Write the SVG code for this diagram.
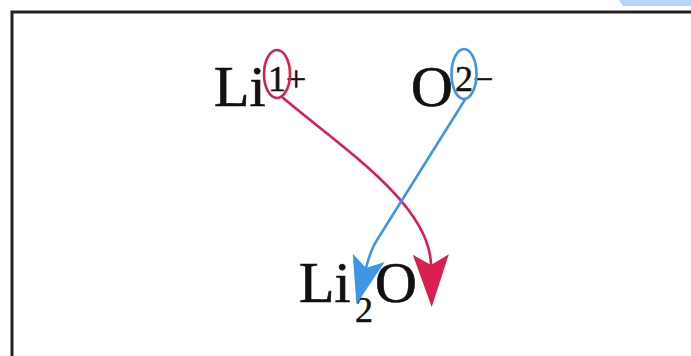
<svg xmlns="http://www.w3.org/2000/svg" width="691" height="356" viewBox="0 0 691 356">
<style>
.t{font-family:"Liberation Serif","Times New Roman",serif;fill:#111;stroke:#111;stroke-width:0.7}
.big{font-size:58px}
.sup{font-size:36px;stroke-width:0.5}
.red{stroke:#d91f52;fill:none;stroke-width:2.6}
.blue{stroke:#3f95e6;fill:none;stroke-width:2.6}
</style>
<defs>
<marker id="ar" markerUnits="userSpaceOnUse" markerWidth="60" markerHeight="60" viewBox="-10 -15 40 30" refX="0" refY="0" orient="auto" overflow="visible">
<path d="M28,0 L-7,-12 L0,0 L-7,12 Z" fill="#d91f52"/>
</marker>
<marker id="ab" markerUnits="userSpaceOnUse" markerWidth="60" markerHeight="60" viewBox="-10 -15 40 30" refX="0" refY="0" orient="auto" overflow="visible">
<path d="M25,0 L-7,-11 L0,0 L-7,11 Z" fill="#3f95e6"/>
</marker>
</defs>
<rect width="691" height="356" fill="#fff"/>
<polygon points="619,0 691,0 691,6 623,6" fill="#b7d3f7"/>
<g id="frame">
<path d="M12,356 L12,12 L691,12" fill="none" stroke="#222" stroke-width="3"/>
</g>
<g id="li-ion">
<text class="t big" x="214" y="106">Li</text>
<text class="t sup" x="268" y="91">1+</text>
<ellipse class="red" cx="277" cy="74" rx="13" ry="24"/>
</g>
<g id="o-ion">
<text class="t big" x="411" y="106">O</text>
<text class="t sup" x="455" y="91">2−</text>
<ellipse class="blue" cx="464" cy="74" rx="12.5" ry="25"/>
</g>
<g id="li2o">
<text class="t big" x="299" y="302">Li</text>
<text class="t sup" x="355" y="322">2</text>
<text class="t big" x="375" y="302">O</text>
</g>
<g id="connectors">
<path class="red" d="M282,97 C345,150 430,205 431,265" marker-end="url(#ar)"/>
<path class="blue" d="M466,98 L377,240 Q371,249 366,268" marker-end="url(#ab)"/>
</g>
</svg>
